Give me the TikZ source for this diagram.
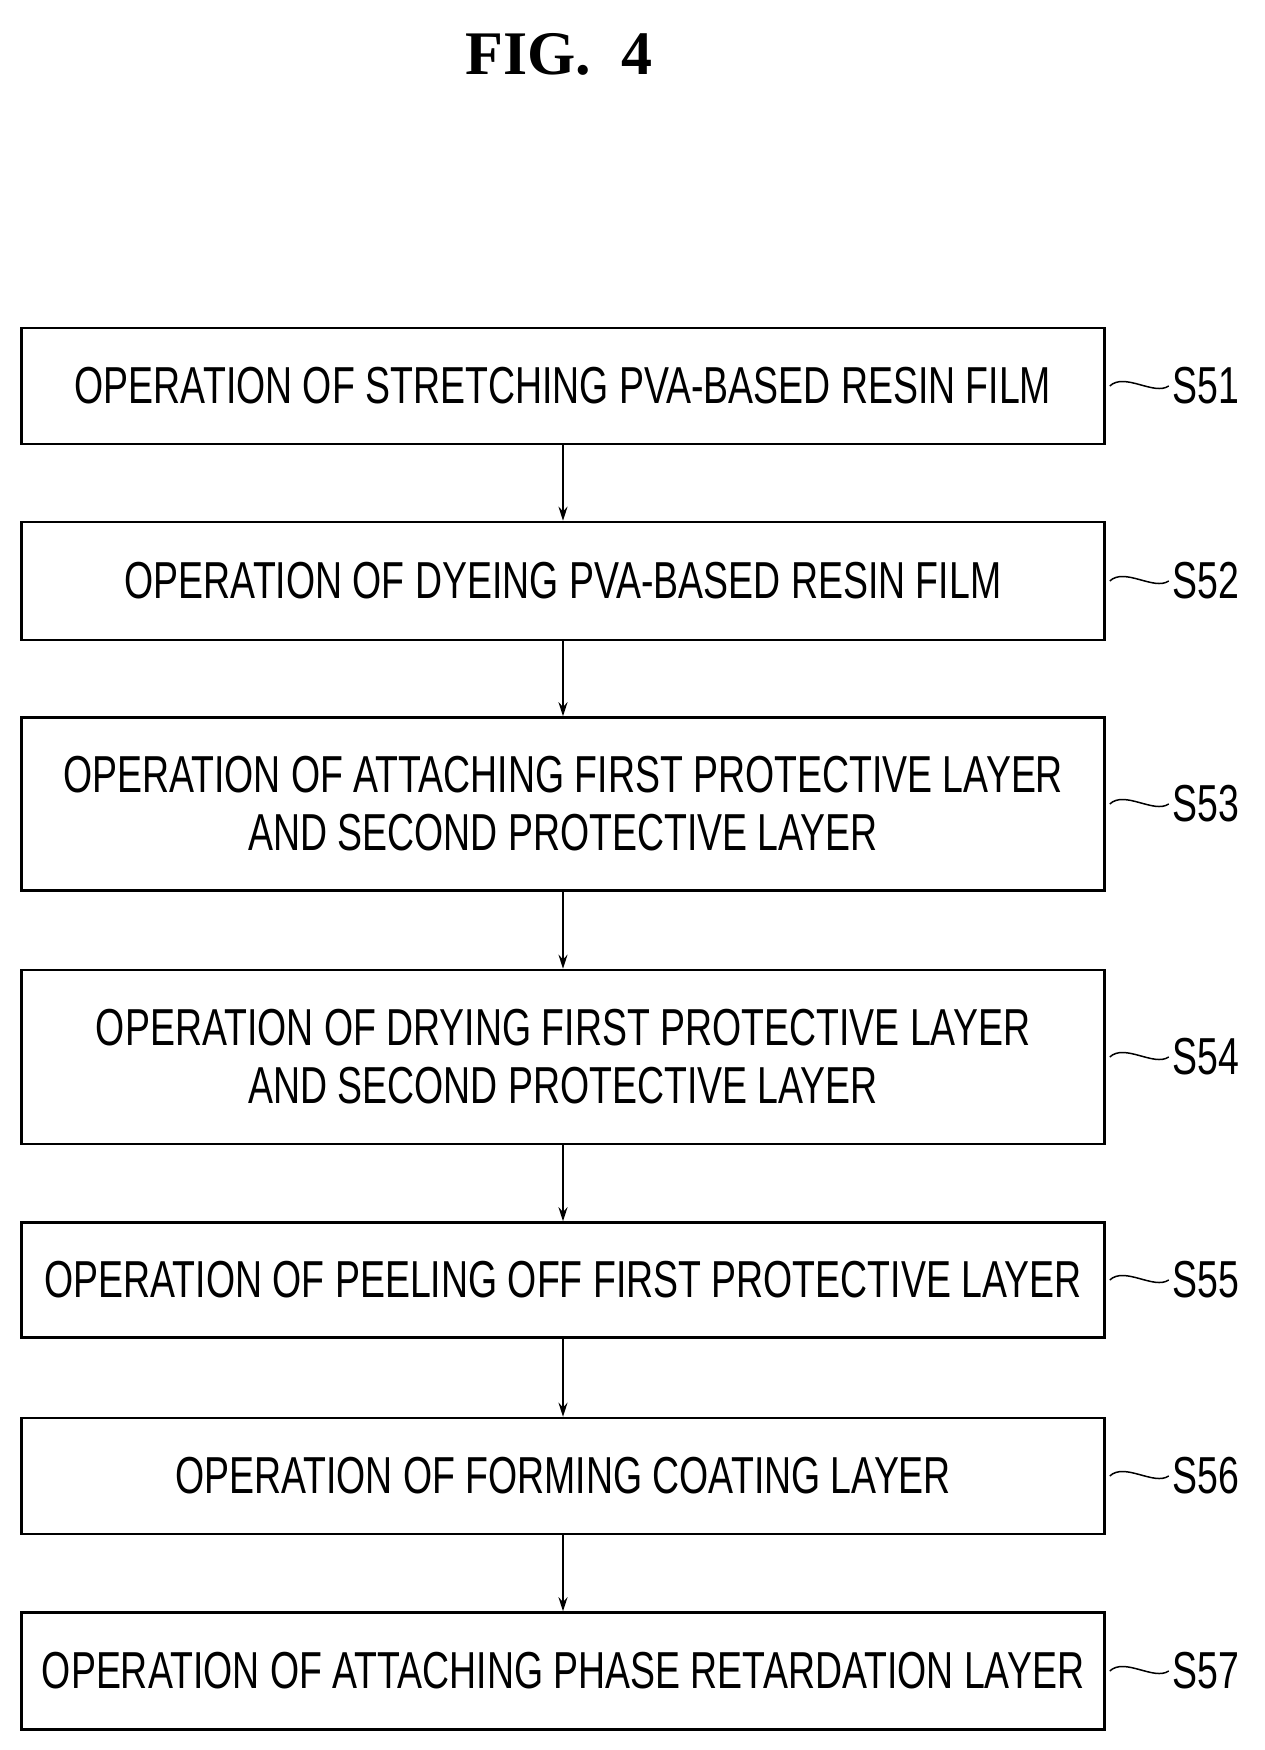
\documentclass[tikz,border=0pt]{standalone}
\usepackage{fontspec}
\setmainfont{Liberation Sans}[FakeStretch=0.72]
\newfontfamily\figfont{Liberation Serif}
\usetikzlibrary{arrows.meta}
\tikzset{
    opbox/.style={draw, line width=2.5pt, minimum width=1083pt, align=center,
        font=\fontsize{52}{58}\selectfont},
    steplabel/.style={anchor=west, font=\fontsize{52}{58}\selectfont, inner sep=0pt},
    flow/.style={line width=1.5pt, -{Stealth[length=14pt,width=9pt]}},
}
\begin{document}
\begin{tikzpicture}[x=1pt, y=-1pt]
    \useasboundingbox (0, 0) rectangle (1264, 1750);
    \node[font=\figfont\bfseries\fontsize{62}{70}\selectfont] (title) at (559, 54) {FIG.\ \ 4};

    \node[opbox, minimum height=116pt] (s51) at (563, 386) {OPERATION OF STRETCHING PVA-BASED RESIN FILM};
    \node[opbox, minimum height=118pt] (s52) at (563, 581) {OPERATION OF DYEING PVA-BASED RESIN FILM};
    \node[opbox, minimum height=173pt] (s53) at (563, 804) {OPERATION OF ATTACHING FIRST PROTECTIVE LAYER\\AND SECOND PROTECTIVE LAYER};
    \node[opbox, minimum height=174pt] (s54) at (563, 1057) {OPERATION OF DRYING FIRST PROTECTIVE LAYER\\AND SECOND PROTECTIVE LAYER};
    \node[opbox, minimum height=115pt] (s55) at (563, 1280) {OPERATION OF PEELING OFF FIRST PROTECTIVE LAYER};
    \node[opbox, minimum height=116pt] (s56) at (563, 1476) {OPERATION OF FORMING COATING LAYER};
    \node[opbox, minimum height=117pt] (s57) at (563, 1671) {OPERATION OF ATTACHING PHASE RETARDATION LAYER};

    \foreach \a/\b in {s51/s52, s52/s53, s53/s54, s54/s55, s55/s56, s56/s57}
    {\draw[flow] (\a) -- (\b);}

    \foreach \s in {51,...,57}
    {
        \node[steplabel] (l\s) at ([xshift=67pt]s\s.east) {S\s};
        \draw[line width=1.5pt] ([xshift=4pt]s\s.east) .. controls ++(15, -14) and ++(-15, 10) .. ([xshift=-4pt]l\s.west);
    }
\end{tikzpicture}
\end{document}
